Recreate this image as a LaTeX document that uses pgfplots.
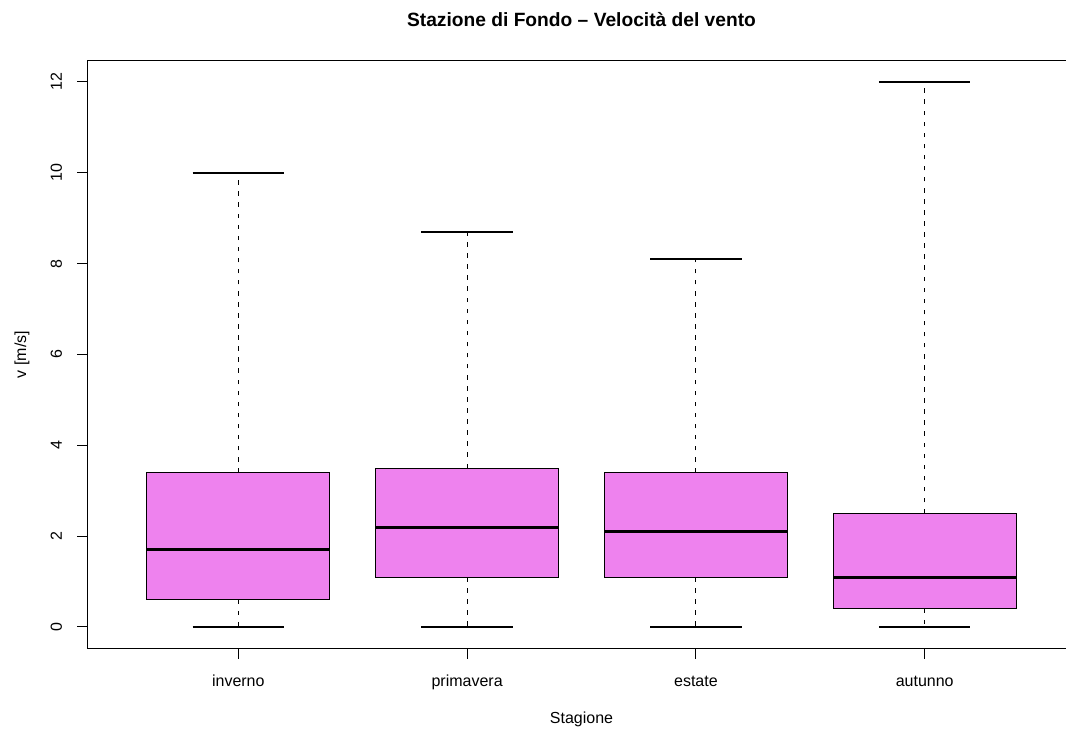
\documentclass[border=0pt]{standalone}
\usepackage{pgfplots}
\pgfplotsset{compat=1.18}
\usepgfplotslibrary{statistics}
\usepackage{fontspec}
\setmainfont{Liberation Sans}
\definecolor{boxv}{HTML}{EE82EE}
\begin{document}
\begin{tikzpicture}
\useasboundingbox (0pt,0pt) rectangle (799.5pt,548.25pt);
\begin{axis}[
  at={(65.475pt,61.65pt)}, anchor=south west,
  scale only axis, width=741.3pt, height=441.45pt,
  xmin=0.34, xmax=4.66, ymin=-0.48, ymax=12.48,
  xtick={1,2,3,4}, xticklabels={inverno,primavera,estate,autunno},
  ytick={0,2,4,6,8,10,12},
  tick align=outside, major tick length=7.5pt,
  xtick pos=bottom, ytick pos=left,
  axis line style={line width=0.75pt, black},
  every tick/.style={line width=0.75pt, black},
  /pgf/number format/assume math mode=true,
  tick label style={font=\fontsize{12}{14}\selectfont},
  xticklabel style={anchor=base, inner sep=0pt, yshift=-20.4pt},
  yticklabel style={xshift=-11.5pt, rotate=90, anchor=base, inner sep=0pt},
  xlabel={Stagione}, ylabel={v [m/s]},
  label style={font=\fontsize{12}{14}\selectfont},
  xlabel style={at={(axis description cs:0.5,-0.1269)}, anchor=base, inner sep=0pt},
  ylabel style={at={(axis description cs:-0.062,0.5)}, anchor=base, inner sep=0pt},
  title={Stazione di Fondo – Velocità del vento},
  title style={at={(axis description cs:0.5,1.0569)}, anchor=base, yshift=-6pt, inner sep=0pt, font=\fontsize{14.4}{17}\selectfont\bfseries},
  boxplot/draw direction=y,
  boxplot/box extend=0.8,
  boxplot/whisker extend=0.4,
  boxplot/every box/.style={draw=black, fill=boxv, line width=0.75pt},
  boxplot/every median/.style={draw=black, line width=2.25pt},
  boxplot/draw/lower whisker/.code={
    \draw[black, line width=0.75pt, dash pattern=on 3.4pt off 4.9pt]
      (boxplot box cs:\pgfplotsboxplotvalue{lower quartile},0.5) --
      (boxplot box cs:\pgfplotsboxplotvalue{lower whisker},0.5);
    \draw[black, line width=1.5pt]
      (boxplot whisker cs:\pgfplotsboxplotvalue{lower whisker},0) --
      (boxplot whisker cs:\pgfplotsboxplotvalue{lower whisker},1);
  },
  boxplot/draw/upper whisker/.code={
    \draw[black, line width=0.75pt, dash pattern=on 3.4pt off 4.9pt]
      (boxplot box cs:\pgfplotsboxplotvalue{upper quartile},0.5) --
      (boxplot box cs:\pgfplotsboxplotvalue{upper whisker},0.5);
    \draw[black, line width=1.5pt]
      (boxplot whisker cs:\pgfplotsboxplotvalue{upper whisker},0) --
      (boxplot whisker cs:\pgfplotsboxplotvalue{upper whisker},1);
  },
]
\addplot[draw=black, boxplot prepared={draw position=1, lower whisker=0, lower quartile=0.6, median=1.7, upper quartile=3.4, upper whisker=10}] coordinates {};
\addplot[draw=black, boxplot prepared={draw position=2, lower whisker=0, lower quartile=1.1, median=2.2, upper quartile=3.5, upper whisker=8.7}] coordinates {};
\addplot[draw=black, boxplot prepared={draw position=3, lower whisker=0, lower quartile=1.1, median=2.1, upper quartile=3.4, upper whisker=8.1}] coordinates {};
\addplot[draw=black, boxplot prepared={draw position=4, lower whisker=0, lower quartile=0.4, median=1.1, upper quartile=2.5, upper whisker=12}] coordinates {};
\end{axis}
\end{tikzpicture}
\end{document}
